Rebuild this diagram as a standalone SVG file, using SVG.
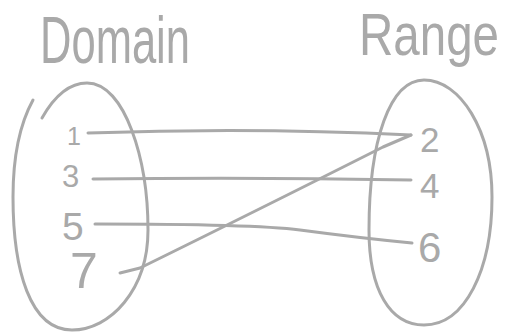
<svg xmlns="http://www.w3.org/2000/svg" width="508" height="333" viewBox="0 0 508 333">
<style>
.t{font-family:"Liberation Sans","DejaVu Sans",sans-serif;fill:#a9a9a9}
.s{fill:none;stroke:#a9a9a9;stroke-width:3;stroke-linecap:round;stroke-linejoin:round}
</style>
<rect width="508" height="333" fill="#fff"/>
<g id="domain">
<text class="t" transform="translate(40,63) scale(1,1.5)" x="0" y="0" font-size="44" textLength="150" lengthAdjust="spacingAndGlyphs">Domain</text>
<path class="s" d="M42,118 C55,95 70,83 87,83 C125,83 148,160 148,230 C148,290 110,330 72,330 C30,330 13,270 13,197 C13,150 22,120 33,100"/>
</g>
<g id="range">
<text class="t" transform="translate(359,55) scale(1,1.25)" x="0" y="0" font-size="48" textLength="140" lengthAdjust="spacingAndGlyphs">Range</text>
<path class="s" d="M424,80 C460,80 492,130 492,197 C492,270 465,325 424,325 C390,325 369,290 369,230 C369,140 390,80 424,80 Z"/>
</g>
<g id="d1"><text class="t" x="67" y="145" font-size="25">1</text></g>
<g id="d3"><text class="t" x="62" y="187" font-size="31">3</text></g>
<g id="d5"><text class="t" x="62" y="240" font-size="39">5</text></g>
<g id="d7"><text class="t" x="70" y="288" font-size="50">7</text></g>
<g id="r2"><text class="t" x="420" y="152" font-size="35">2</text></g>
<g id="r4"><text class="t" x="420" y="198" font-size="35">4</text></g>
<g id="r6"><text class="t" x="418" y="262" font-size="42">6</text></g>
<g id="connectors">
<path class="s" d="M88,133 Q254,127 411,135"/>
<path class="s" d="M411,135 L383,147 Q254,212 140,268 L120,273"/>
<path class="s" d="M93,179 Q254,177 411,180"/>
<path class="s" d="M95,224 Q254,224 300,230 Q360,238 412,243"/>
</g>
</svg>
